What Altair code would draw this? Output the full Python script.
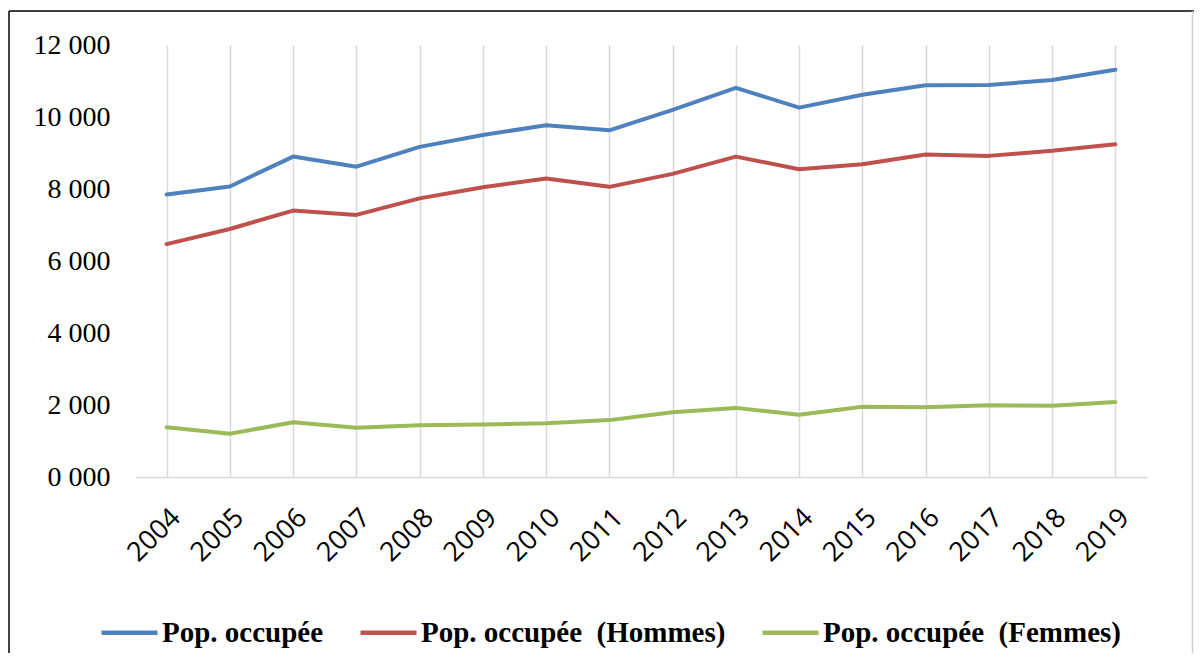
import altair as alt
import pandas as pd

years = [str(y) for y in range(2004, 2020)]
total = [7850, 8070, 8900, 8620, 9170, 9500, 9770, 9630, 10200, 10810, 10260, 10620, 10880, 10890, 11030, 11310]
hommes = [6470, 6890, 7400, 7280, 7740, 8050, 8290, 8060, 8420, 8900, 8550, 8690, 8960, 8920, 9060, 9240]
femmes = [1380, 1200, 1520, 1370, 1440, 1460, 1490, 1580, 1800, 1920, 1730, 1950, 1940, 1990, 1980, 2080]

series_names = ["Pop. occupée", "Pop. occupée \u00a0(Hommes)", "Pop. occupée \u00a0(Femmes)"]
series_colors = ["#4F81BD", "#C0504D", "#9BBB59"]
y_ticks = [0, 2000, 4000, 6000, 8000, 10000, 12000]

rows = []
for name, vals in zip(series_names, [total, hommes, femmes]):
    for yr, v in zip(years, vals):
        rows.append({"Année": yr, "Valeur": v, "Série": name})
df = pd.DataFrame(rows)

W, H = 1012, 432
PAD_L, PAD_T = 127, 37
TOTAL_W, TOTAL_H = 1186, 645

lines = alt.Chart(df).mark_line(strokeWidth=4, strokeCap="round", strokeJoin="round").encode(
    x=alt.X("Année:O", sort=years, title=None,
            axis=alt.Axis(labelAngle=-45, labelFont="Open Sans", labelFontSize=27, labelColor="black",
                          labelPadding=27, ticks=False, domainColor="#D9D9D9", domainWidth=1.5,
                          grid=True, gridColor="#D9D9D9", gridWidth=1.5)),
    y=alt.Y("Valeur:Q", title=None,
            scale=alt.Scale(domain=[0, 12000], nice=False),
            axis=alt.Axis(values=y_ticks, labelExpr="floor(datum.value/1000) + ' 000'",
                          labelFont="Liberation Serif", labelFontSize=28, labelColor="black",
                          labelPadding=25, ticks=False, domain=False, grid=False)),
    color=alt.Color("Série:N", title=None,
                    scale=alt.Scale(domain=series_names, range=series_colors),
                    sort=series_names,
                    legend=alt.Legend(orient="none", direction="horizontal", legendX=-36, legendY=557,
                                      symbolType="stroke", symbolSize=3136, symbolStrokeWidth=4.5,
                                      labelFont="Liberation Serif", labelFontSize=29, labelFontWeight="bold",
                                      labelColor="black", labelOffset=2, columnPadding=27, padding=0,
                                      labelLimit=0)),
)

frame = pd.DataFrame({"k": [0]})
left_line = alt.Chart(frame).mark_rule(color="black", strokeWidth=1.5).encode(
    x=alt.value(-126), x2=alt.value(-126), y=alt.value(-34), y2=alt.value(TOTAL_H - PAD_T))
top_line = alt.Chart(frame).mark_rule(color="black", strokeWidth=1.5).encode(
    x=alt.value(-126), x2=alt.value(TOTAL_W - PAD_L), y=alt.value(-34), y2=alt.value(-34))
right_line = alt.Chart(frame).mark_rule(color="#D0D0D0", strokeWidth=1.5).encode(
    x=alt.value(TOTAL_W - PAD_L - 1.5), x2=alt.value(TOTAL_W - PAD_L - 1.5), y=alt.value(-34), y2=alt.value(TOTAL_H - PAD_T))

chart = alt.layer(lines, left_line, top_line, right_line).properties(
    width=W, height=H,
    autosize=alt.AutoSizeParams(type="none"),
    padding={"left": PAD_L, "top": PAD_T, "right": TOTAL_W - PAD_L - W, "bottom": TOTAL_H - PAD_T - H},
    background="white",
).configure_view(stroke=None)

chart.save("out.html", embed_options={"renderer": "svg", "actions": False})
